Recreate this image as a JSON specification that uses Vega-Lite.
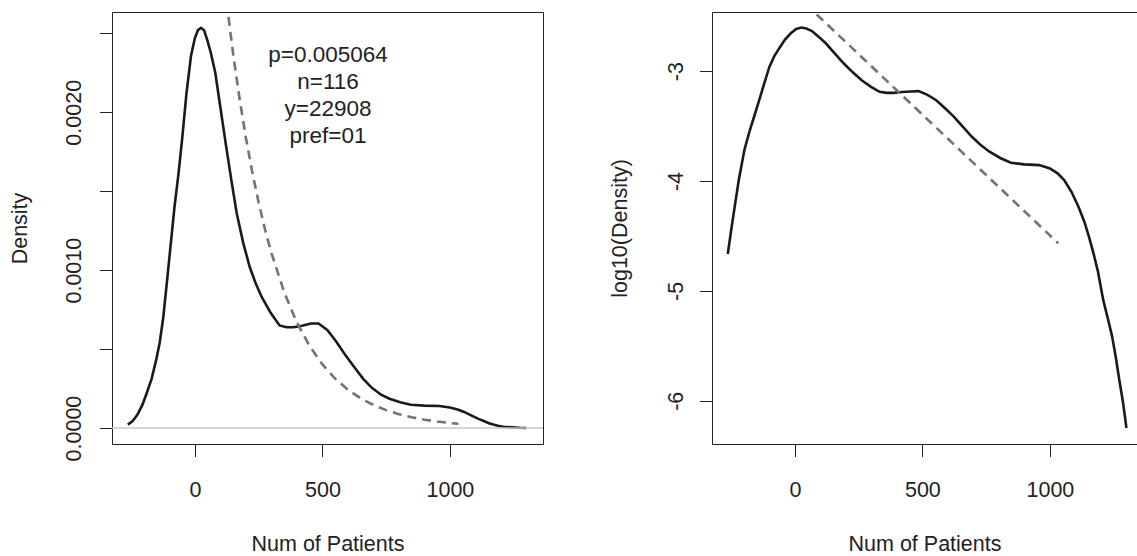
{
  "$schema": "https://vega.github.io/schema/vega-lite/v6.json",
  "background": "white",
  "padding": {"left": 8, "top": 11, "right": 0, "bottom": 0},
  "spacing": 169,
  "bounds": "flush",
  "datasets": {
    "annot": [{"x": 522, "density": 0.002318, "label": "p=0.005064\nn=116\ny=22908\npref=01"}],
    "hline": [{"density": 0}],
    "kde": [
      {"x": -263, "density": 0.000022},
      {"x": -245, "density": 0.000042},
      {"x": -225, "density": 0.000085},
      {"x": -205, "density": 0.00015},
      {"x": -187, "density": 0.00023},
      {"x": -170, "density": 0.00031},
      {"x": -152, "density": 0.00043},
      {"x": -138, "density": 0.00054},
      {"x": -124, "density": 0.0007},
      {"x": -110, "density": 0.00092},
      {"x": -95, "density": 0.00116},
      {"x": -80, "density": 0.0014},
      {"x": -65, "density": 0.0016},
      {"x": -50, "density": 0.00183},
      {"x": -33, "density": 0.00212},
      {"x": -15, "density": 0.00236},
      {"x": 0, "density": 0.00247},
      {"x": 12, "density": 0.00252},
      {"x": 24, "density": 0.002535},
      {"x": 36, "density": 0.00252},
      {"x": 48, "density": 0.00246},
      {"x": 62, "density": 0.00238},
      {"x": 80, "density": 0.00225},
      {"x": 100, "density": 0.00203},
      {"x": 122, "density": 0.00179},
      {"x": 143, "density": 0.00157},
      {"x": 164, "density": 0.00136},
      {"x": 190, "density": 0.00117},
      {"x": 215, "density": 0.00102},
      {"x": 240, "density": 0.00091},
      {"x": 262, "density": 0.00083},
      {"x": 297, "density": 0.00073},
      {"x": 332, "density": 0.00065},
      {"x": 360, "density": 0.000638},
      {"x": 387, "density": 0.000638},
      {"x": 420, "density": 0.000648},
      {"x": 455, "density": 0.000662},
      {"x": 485, "density": 0.000662},
      {"x": 520, "density": 0.00062},
      {"x": 554, "density": 0.000548},
      {"x": 590, "density": 0.000462},
      {"x": 624, "density": 0.000388},
      {"x": 660, "density": 0.000312},
      {"x": 694, "density": 0.000255},
      {"x": 730, "density": 0.000211},
      {"x": 763, "density": 0.000186},
      {"x": 805, "density": 0.000163},
      {"x": 847, "density": 0.000148},
      {"x": 900, "density": 0.000142},
      {"x": 958, "density": 0.00014},
      {"x": 1000, "density": 0.00013},
      {"x": 1030, "density": 0.000117},
      {"x": 1056, "density": 0.000102},
      {"x": 1085, "density": 0.000079},
      {"x": 1112, "density": 0.000058},
      {"x": 1135, "density": 0.000043},
      {"x": 1153, "density": 0.000031},
      {"x": 1170, "density": 0.000022},
      {"x": 1188, "density": 0.000015},
      {"x": 1209, "density": 0.000008},
      {"x": 1244, "density": 0.000004},
      {"x": 1272, "density": 0.0000016},
      {"x": 1300, "density": 0.0000006}
    ],
    "kdelog": [
      {"x": -263, "logdensity": -4.664},
      {"x": -250, "logdensity": -4.45},
      {"x": -240, "logdensity": -4.294},
      {"x": -220, "logdensity": -3.99},
      {"x": -198, "logdensity": -3.718},
      {"x": -177, "logdensity": -3.54},
      {"x": -156, "logdensity": -3.385},
      {"x": -142, "logdensity": -3.28},
      {"x": -128, "logdensity": -3.173},
      {"x": -114, "logdensity": -3.065},
      {"x": -100, "logdensity": -2.961},
      {"x": -80, "logdensity": -2.86},
      {"x": -58, "logdensity": -2.779},
      {"x": -38, "logdensity": -2.71},
      {"x": -17, "logdensity": -2.657},
      {"x": 5, "logdensity": -2.615},
      {"x": 25, "logdensity": -2.603},
      {"x": 45, "logdensity": -2.612},
      {"x": 67, "logdensity": -2.634},
      {"x": 95, "logdensity": -2.69},
      {"x": 122, "logdensity": -2.748},
      {"x": 157, "logdensity": -2.84},
      {"x": 192, "logdensity": -2.93},
      {"x": 227, "logdensity": -3.01},
      {"x": 262, "logdensity": -3.082},
      {"x": 297, "logdensity": -3.14},
      {"x": 332, "logdensity": -3.188},
      {"x": 360, "logdensity": -3.197},
      {"x": 387, "logdensity": -3.197},
      {"x": 420, "logdensity": -3.19},
      {"x": 455, "logdensity": -3.185},
      {"x": 485, "logdensity": -3.181},
      {"x": 520, "logdensity": -3.215},
      {"x": 554, "logdensity": -3.264},
      {"x": 590, "logdensity": -3.34},
      {"x": 624, "logdensity": -3.415},
      {"x": 660, "logdensity": -3.51},
      {"x": 694, "logdensity": -3.597},
      {"x": 730, "logdensity": -3.675},
      {"x": 763, "logdensity": -3.733},
      {"x": 805, "logdensity": -3.79},
      {"x": 847, "logdensity": -3.833},
      {"x": 900, "logdensity": -3.848},
      {"x": 958, "logdensity": -3.855},
      {"x": 1000, "logdensity": -3.885},
      {"x": 1030, "logdensity": -3.93},
      {"x": 1056, "logdensity": -3.991},
      {"x": 1085, "logdensity": -4.1},
      {"x": 1112, "logdensity": -4.234},
      {"x": 1135, "logdensity": -4.37},
      {"x": 1153, "logdensity": -4.506},
      {"x": 1170, "logdensity": -4.65},
      {"x": 1188, "logdensity": -4.82},
      {"x": 1209, "logdensity": -5.082},
      {"x": 1227, "logdensity": -5.25},
      {"x": 1244, "logdensity": -5.415},
      {"x": 1258, "logdensity": -5.6},
      {"x": 1272, "logdensity": -5.809},
      {"x": 1287, "logdensity": -6.02},
      {"x": 1300, "logdensity": -6.248}
    ],
    "expfit": [
      {"x": 0, "density": 0.005064, "logdensity": -2.2955},
      {"x": 25, "density": 0.004462, "logdensity": -2.3505},
      {"x": 50, "density": 0.003931, "logdensity": -2.4055},
      {"x": 75, "density": 0.003464, "logdensity": -2.4605},
      {"x": 100, "density": 0.003052, "logdensity": -2.5154},
      {"x": 125, "density": 0.002689, "logdensity": -2.5704},
      {"x": 150, "density": 0.002369, "logdensity": -2.6254},
      {"x": 175, "density": 0.002088, "logdensity": -2.6804},
      {"x": 200, "density": 0.001839, "logdensity": -2.7354},
      {"x": 225, "density": 0.001621, "logdensity": -2.7903},
      {"x": 250, "density": 0.001428, "logdensity": -2.8453},
      {"x": 275, "density": 0.001258, "logdensity": -2.9003},
      {"x": 300, "density": 0.001109, "logdensity": -2.9553},
      {"x": 350, "density": 0.000861, "logdensity": -3.0653},
      {"x": 400, "density": 0.000668, "logdensity": -3.1752},
      {"x": 450, "density": 0.000519, "logdensity": -3.2852},
      {"x": 500, "density": 0.000403, "logdensity": -3.3952},
      {"x": 550, "density": 0.000313, "logdensity": -3.5051},
      {"x": 600, "density": 0.000243, "logdensity": -3.6151},
      {"x": 650, "density": 0.000188, "logdensity": -3.7251},
      {"x": 700, "density": 0.000146, "logdensity": -3.835},
      {"x": 750, "density": 0.0001135, "logdensity": -3.945},
      {"x": 800, "density": 0.0000881, "logdensity": -4.0549},
      {"x": 850, "density": 0.0000684, "logdensity": -4.1649},
      {"x": 900, "density": 0.0000531, "logdensity": -4.2749},
      {"x": 950, "density": 0.0000412, "logdensity": -4.3848},
      {"x": 1000, "density": 0.000032, "logdensity": -4.4948},
      {"x": 1033, "density": 0.0000271, "logdensity": -4.5674}
    ]
  },
  "hconcat": [
    {
      "width": 431,
      "height": 432,
      "encoding": {
        "y": {
          "field": "density", "type": "quantitative",
          "scale": {"domain": [-0.000101, 0.002635], "nice": false, "zero": false},
          "axis": {
            "title": "Density",
            "values": [0, 0.0005, 0.001, 0.0015, 0.002, 0.0025],
            "labelExpr": "datum.value == 0 ? '0.0000' : datum.value == 0.001 ? '0.0010' : datum.value == 0.002 ? '0.0020' : ''",
            "labelAngle": -90, "labelAlign": "center", "labelBaseline": "alphabetic", "labelPadding": 19.5,
            "titleAngle": -90, "titleX": -86, "titleY": 216, "titleAlign": "center", "titleBaseline": "alphabetic"
          }
        }
      },
      "layer": [
        {
          "data": {"name": "kde"},
          "mark": {"type": "line", "color": "#1a1a1a", "strokeWidth": 2.6, "clip": true},
          "encoding": {
            "x": {
              "field": "x", "type": "quantitative",
              "scale": {"domain": [-325, 1365], "nice": false, "zero": false},
              "axis": {
                "title": "Num of Patients", "values": [0, 500, 1000],
                "labelExpr": "'' + datum.value",
                "labelBaseline": "alphabetic", "labelPadding": 40,
                "titleY": 106.5, "titleBaseline": "alphabetic"
              }
            }
          }
        },
        {
          "data": {"name": "expfit"},
          "mark": {"type": "line", "color": "#737373", "strokeWidth": 2.6, "strokeDash": [9, 6], "clip": true},
          "encoding": {
            "x": {
              "field": "x", "type": "quantitative",
              "scale": {"domain": [-325, 1365], "nice": false, "zero": false},
              "axis": {
                "title": "Num of Patients", "values": [0, 500, 1000],
                "labelExpr": "'' + datum.value",
                "labelBaseline": "alphabetic", "labelPadding": 40,
                "titleY": 106.5, "titleBaseline": "alphabetic"
              }
            }
          }
        },
        {
          "data": {"name": "hline"},
          "mark": {"type": "rule", "color": "#c8c8c8", "strokeWidth": 1.5}
        },
        {
          "data": {"name": "annot"},
          "mark": {"type": "text", "align": "center", "baseline": "alphabetic", "fontSize": 22.5, "lineHeight": 27, "lineBreak": "\n", "color": "#222", "font": "Liberation Sans"},
          "encoding": {
            "x": {
              "field": "x", "type": "quantitative",
              "scale": {"domain": [-325, 1365], "nice": false, "zero": false},
              "axis": {
                "title": "Num of Patients", "values": [0, 500, 1000],
                "labelExpr": "'' + datum.value",
                "labelBaseline": "alphabetic", "labelPadding": 40,
                "titleY": 106.5, "titleBaseline": "alphabetic"
              }
            },
            "text": {"field": "label", "type": "nominal"}
          }
        }
      ]
    },
    {
      "width": 425,
      "height": 432,
      "view": {"stroke": null},
      "resolve": {"axis": {"x": "independent"}},
      "encoding": {
        "y": {
          "field": "logdensity", "type": "quantitative",
          "scale": {"domain": [-6.394, -2.461], "nice": false, "zero": false},
          "axis": {
            "title": "log10(Density)",
            "values": [-6, -5, -4, -3],
            "labelExpr": "'' + datum.value",
            "domain": true,
            "labelAngle": -90, "labelAlign": "center", "labelBaseline": "alphabetic", "labelPadding": 17,
            "titleAngle": -90, "titleX": -86, "titleY": 216, "titleAlign": "center", "titleBaseline": "alphabetic"
          }
        }
      },
      "layer": [
        {
          "data": {"name": "kdelog"},
          "mark": {"type": "line", "color": "#1a1a1a", "strokeWidth": 2.6, "clip": true},
          "encoding": {
            "x": {
              "field": "x", "type": "quantitative",
              "scale": {"domain": [-325, 1341.5], "nice": false, "zero": false},
              "axis": {
                "title": "Num of Patients", "values": [0, 500, 1000],
                "labelExpr": "'' + datum.value",
                "domain": true,
                "labelBaseline": "alphabetic", "labelPadding": 40,
                "titleY": 106.5, "titleBaseline": "alphabetic"
              }
            }
          }
        },
        {
          "data": {"name": "expfit"},
          "mark": {"type": "line", "color": "#737373", "strokeWidth": 2.6, "strokeDash": [9, 6], "clip": true},
          "encoding": {
            "x": {
              "field": "x", "type": "quantitative",
              "axis": {"orient": "top", "domain": true, "ticks": false, "labels": false, "title": null}
            }
          }
        }
      ]
    }
  ],
  "config": {
    "font": "Liberation Sans",
    "view": {"stroke": "#222", "strokeWidth": 1},
    "axis": {
      "grid": false,
      "domain": false,
      "domainColor": "#222",
      "domainWidth": 1,
      "tickSize": 12.5,
      "tickColor": "#222",
      "tickWidth": 1,
      "labelFont": "Liberation Sans",
      "labelFontSize": 21.5,
      "labelColor": "#222",
      "labelOverlap": false,
      "labelFlush": false,
      "titleFont": "Liberation Sans",
      "titleFontSize": 21.5,
      "titleFontWeight": "normal",
      "titleColor": "#222"
    }
  }
}
